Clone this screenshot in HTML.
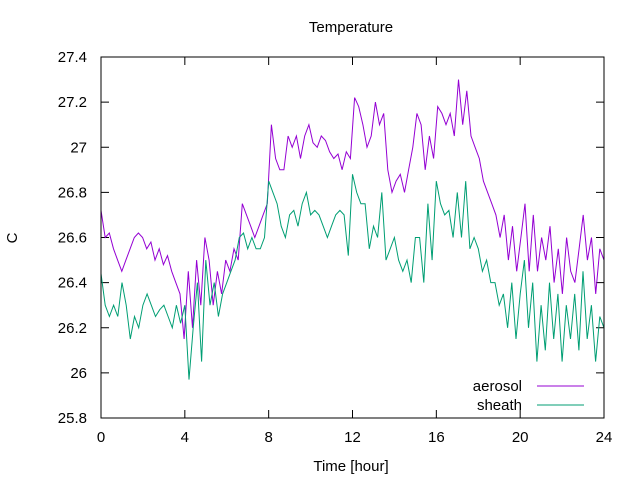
<!DOCTYPE html>
<html><head><meta charset="utf-8"><style>
body{margin:0;background:#fff}
svg text{font-family:"Liberation Sans",sans-serif;font-size:15px;fill:#000}
</style></head><body>
<svg width="640" height="480" xmlns="http://www.w3.org/2000/svg">
<g id="g"></g>
</svg>
<script>
const xTicks=[0,4,8,12,16,20,24];
const yTicks=[25.8,26,26.2,26.4,26.6,26.8,27,27.2,27.4];
const aerosol=[26.72,26.6,26.62,26.55,26.5,26.45,26.5,26.55,26.6,26.62,26.6,26.55,26.58,26.5,26.55,26.48,26.52,26.45,26.4,26.35,26.15,26.45,26.2,26.5,26.3,26.6,26.5,26.3,26.45,26.35,26.5,26.45,26.55,26.5,26.75,26.7,26.65,26.6,26.65,26.7,26.75,27.1,26.95,26.9,26.9,27.05,27.0,27.05,26.95,27.05,27.1,27.02,27.0,27.05,27.03,26.98,26.95,26.97,26.9,26.98,26.95,27.22,27.18,27.1,27.0,27.05,27.2,27.1,27.15,26.9,26.8,26.85,26.88,26.8,26.9,27.0,27.15,27.1,26.9,27.05,26.95,27.18,27.15,27.1,27.15,27.05,27.3,27.1,27.25,27.05,27.0,26.95,26.85,26.8,26.75,26.7,26.6,26.7,26.5,26.65,26.45,26.6,26.75,26.45,26.7,26.45,26.6,26.5,26.65,26.4,26.55,26.35,26.6,26.45,26.4,26.55,26.7,26.5,26.6,26.35,26.55,26.5];
const sheath=[26.44,26.3,26.25,26.3,26.25,26.4,26.3,26.15,26.25,26.2,26.3,26.35,26.3,26.25,26.28,26.3,26.25,26.2,26.3,26.22,26.3,25.97,26.2,26.4,26.05,26.5,26.3,26.4,26.25,26.35,26.4,26.45,26.5,26.6,26.62,26.55,26.6,26.55,26.55,26.6,26.85,26.8,26.75,26.65,26.6,26.7,26.72,26.65,26.75,26.8,26.7,26.72,26.7,26.65,26.6,26.65,26.7,26.72,26.7,26.52,26.88,26.8,26.75,26.75,26.55,26.65,26.6,26.8,26.5,26.55,26.6,26.5,26.45,26.5,26.4,26.6,26.6,26.4,26.75,26.5,26.85,26.75,26.7,26.72,26.6,26.8,26.6,26.85,26.55,26.6,26.55,26.45,26.5,26.4,26.4,26.3,26.35,26.2,26.4,26.15,26.35,26.5,26.2,26.4,26.05,26.3,26.1,26.4,26.15,26.35,26.05,26.3,26.15,26.35,26.1,26.45,26.15,26.3,26.05,26.25,26.2];
const X0=101,X1=604,Y0=418,Y1=57;
const sx=v=>X0+(v-0)/24*(X1-X0);
const sy=v=>Y0-(v-25.8)/1.6*(Y0-Y1);
const NS="http://www.w3.org/2000/svg";
const g=document.getElementById('g');
function mk(t,a,txt){const e=document.createElementNS(NS,t);for(const k in a)e.setAttribute(k,a[k]);if(txt!=null)e.textContent=txt;g.appendChild(e);return e;}
let e;
yTicks.forEach(v=>{const y=sy(v);
e=mk('line',{x1:X0,x2:X0+8,y1:y,y2:y,stroke:'#000'});


mk('line',{x1:X1,x2:X1-8,y1:y,y2:y,stroke:'#000'});
e=mk('text',{x:X0-14,y:y+5,'text-anchor':'end'},String(v));


});
xTicks.forEach(v=>{const x=sx(v);
e=mk('line',{x1:x,x2:x,y1:Y0,y2:Y0-8,stroke:'#000'});


mk('line',{x1:x,x2:x,y1:Y1,y2:Y1+8,stroke:'#000'});
e=mk('text',{x:x,y:Y0+24,'text-anchor':'middle'},String(v));


});
function series(arr,col,name){const n=arr.length;
const pts=arr.map((v,i)=>sx(i*24/(n-1)).toFixed(1)+','+sy(v).toFixed(1)).join(' ');
e=mk('polyline',{points:pts,fill:'none',stroke:col,'stroke-width':1});

}
series(aerosol,'#9400d3','aerosol');
series(sheath,'#009e73','sheath');
e=mk('rect',{x:X0,y:Y1,width:X1-X0,height:Y0-Y1,fill:'none',stroke:'#000'});


e=mk('text',{x:351,y:32,'text-anchor':'middle'},'Temperature');


e=mk('text',{x:351,y:471,'text-anchor':'middle'},'Time [hour]');


e=mk('text',{x:17,y:238,'text-anchor':'middle',transform:'rotate(-90 17 238)'},'C');


e=mk('text',{x:522,y:391,'text-anchor':'end'},'aerosol');


e=mk('line',{x1:537,x2:584,y1:386,y2:386,stroke:'#9400d3'});


e=mk('text',{x:522,y:410,'text-anchor':'end'},'sheath');


e=mk('line',{x1:537,x2:584,y1:405,y2:405,stroke:'#009e73'});


</script>
</body></html>
